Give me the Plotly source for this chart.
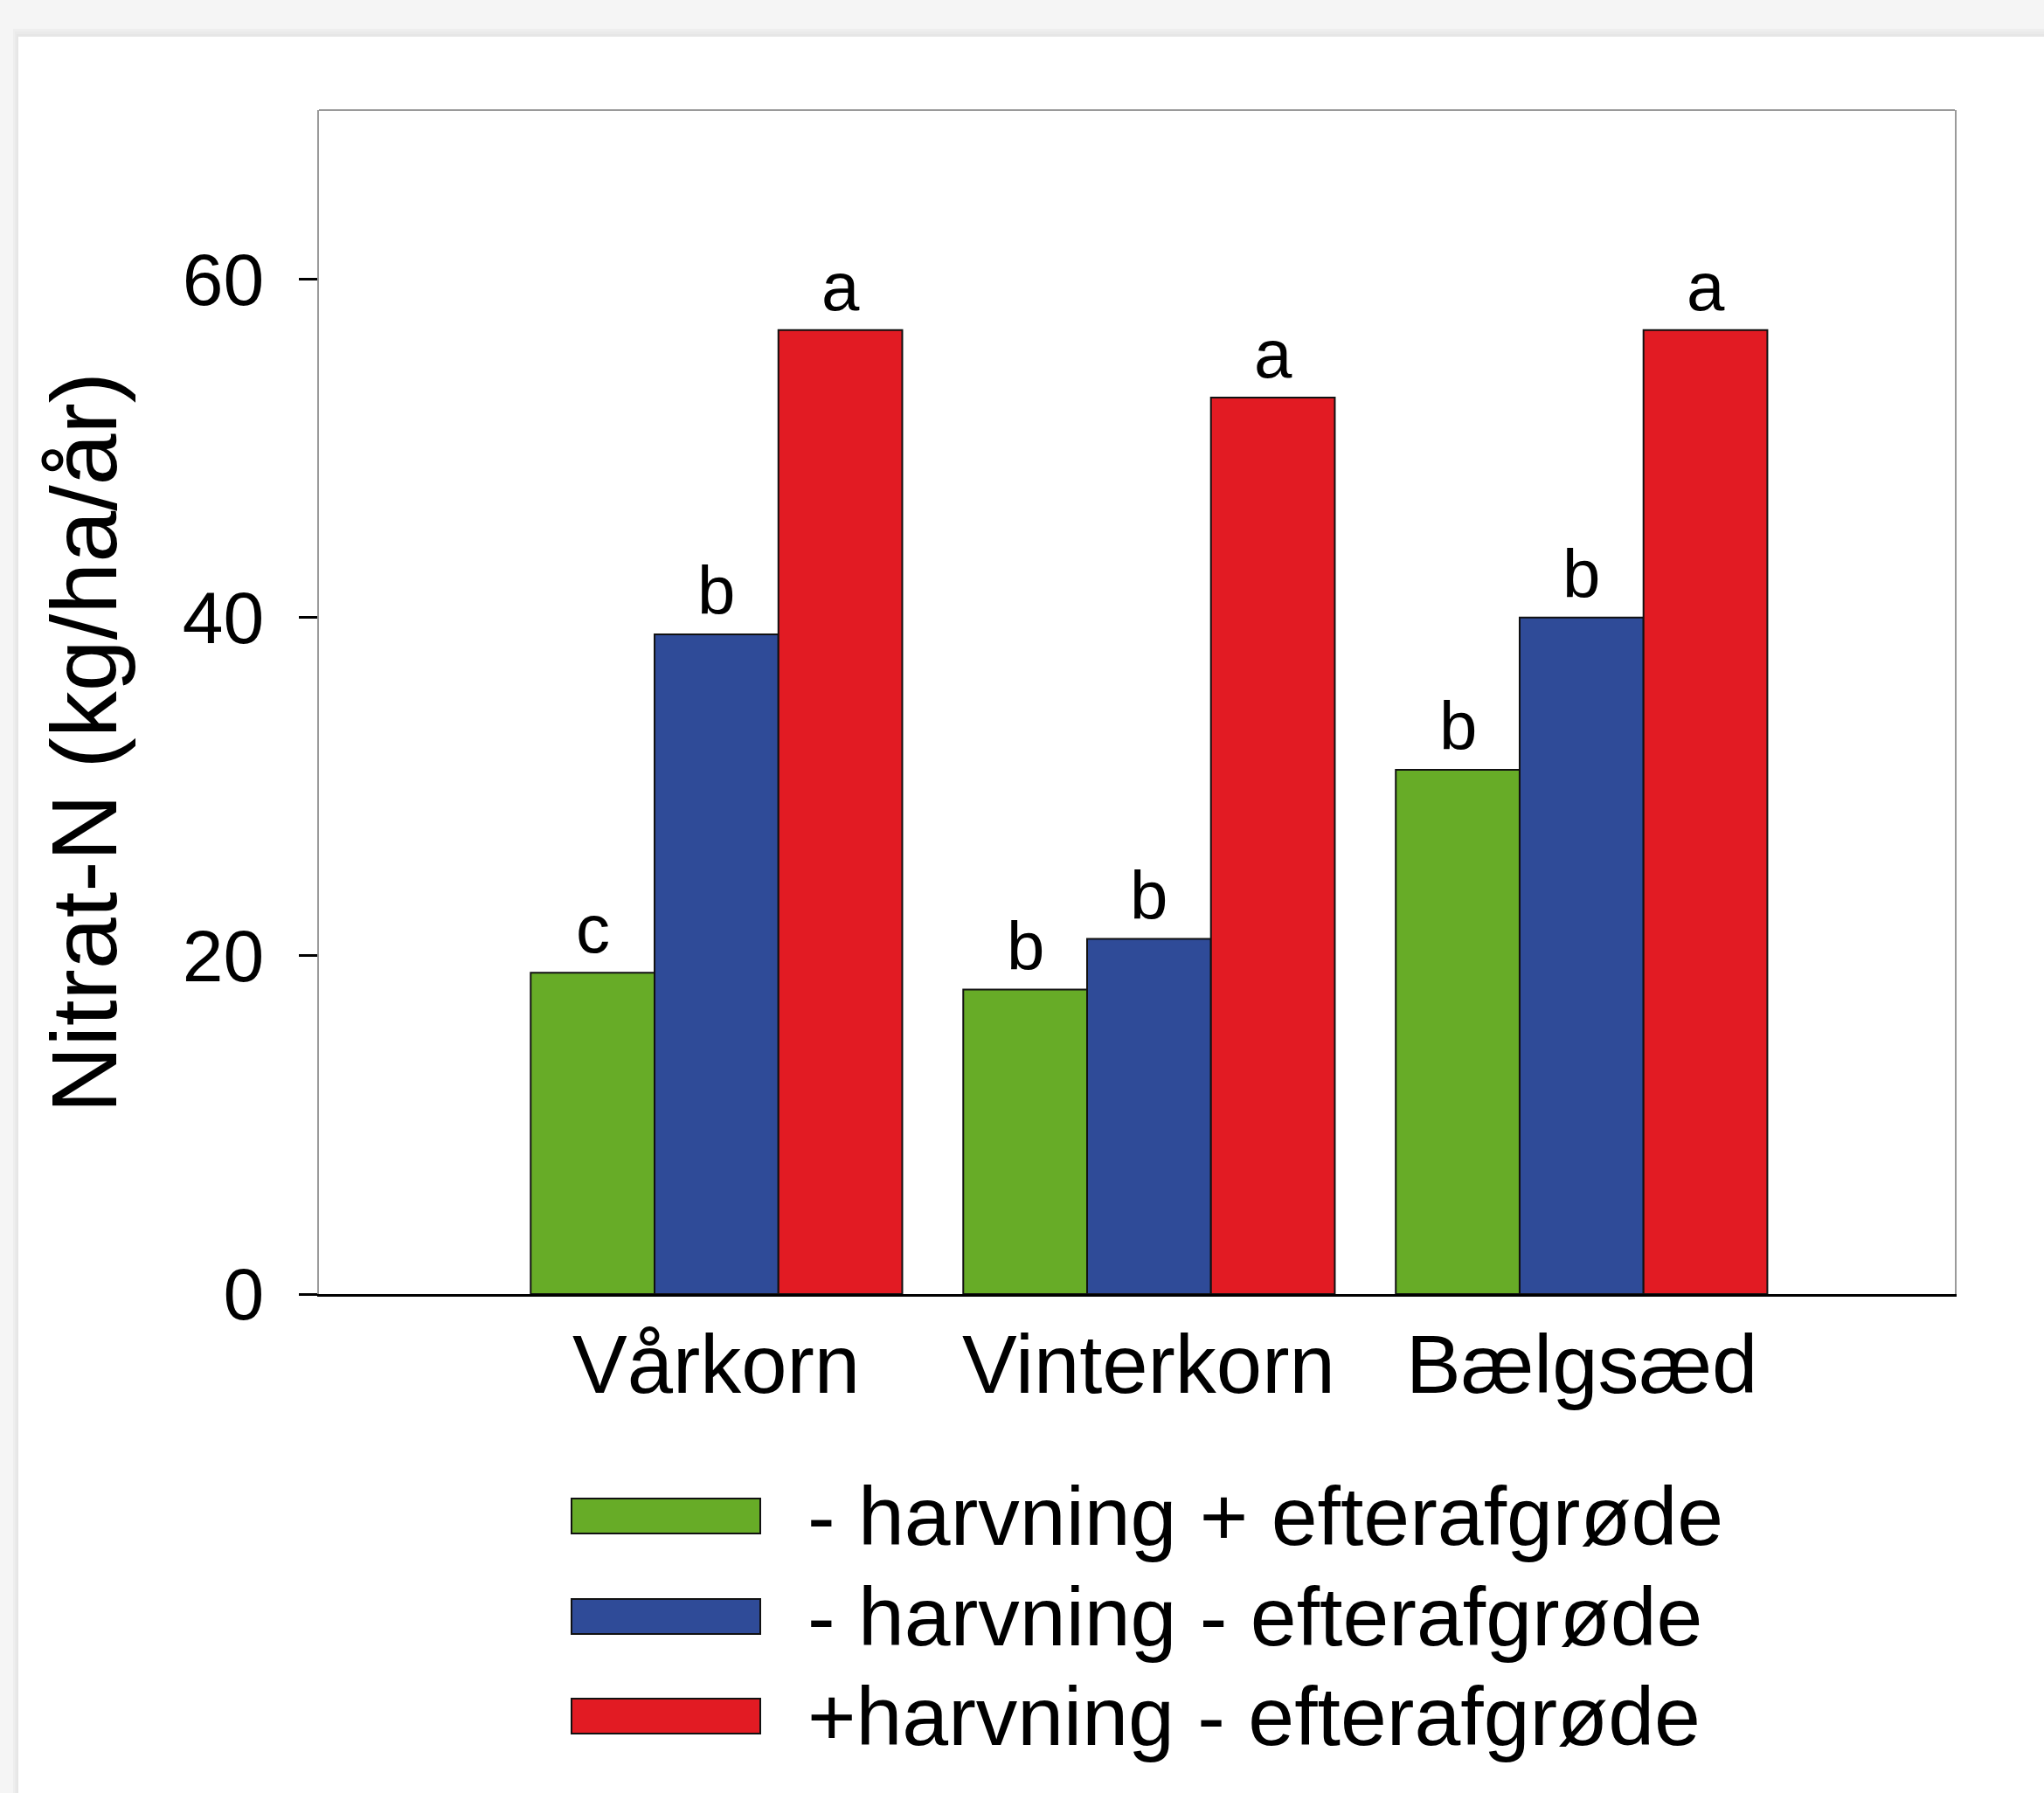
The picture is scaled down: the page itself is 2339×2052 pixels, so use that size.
import plotly.graph_objects as go

# ---- data ----
categories = ["Vårkorn", "Vinterkorn", "Bælgsæd"]
series_names = ["- harvning + efterafgrøde", "- harvning - efterafgrøde", "+harvning - efterafgrøde"]
green_values = [19, 18, 31]
blue_values = [39, 21, 40]
red_values = [57, 53, 57]
green_letters = ["c", "b", "b"]
blue_letters = ["b", "b", "b"]
red_letters = ["a", "a", "a"]
y_ticks = [0, 20, 40, 60]

colors = ["#67AC27", "#2F4B98", "#E21B23"]
series_values = [green_values, blue_values, red_values]
series_letters = [green_letters, blue_letters, red_letters]

W, H = 2339, 2052
ML, MR, MT, MB = 365, 102, 126, 571
PW = W - ML - MR
PH = H - MT - MB
FONT = "Liberation Sans, Arial, sans-serif"


def px2x(px):
    return (px - ML) / PW


def px2y(py):
    return (H - MB - py) / PH


x_pos = list(range(len(categories)))
bargap = 0.141
group_w = 1 - bargap
bar_w = group_w / 3

fig = go.Figure()
for i, (name, vals, col) in enumerate(zip(series_names, series_values, colors)):
    fig.add_trace(go.Bar(
        x=x_pos, y=vals, name=name,
        marker=dict(color=col, line=dict(color="#111111", width=2)),
        showlegend=False, hoverinfo="skip",
    ))

annotations = []
# significance letters
for i, (vals, letters) in enumerate(zip(series_values, series_letters)):
    off = (i - 1) * bar_w
    for xi, v, t in zip(x_pos, vals, letters):
        annotations.append(dict(
            x=xi + off, y=v, xref="x", yref="y", text=t, showarrow=False,
            yanchor="bottom", xanchor="center", yshift=4,
            font=dict(family=FONT, size=78, color="black"),
        ))

# category labels
for xi, c in zip(x_pos, categories):
    annotations.append(dict(
        x=xi, y=px2y(1561), xref="x", yref="paper", text=c, showarrow=False,
        xanchor="center", yanchor="middle",
        font=dict(family=FONT, size=94, color="black"),
    ))

# y-axis title
annotations.append(dict(
    x=px2x(96), y=px2y(850), xref="paper", yref="paper",
    text="Nitrat-N (kg/ha/år)", textangle=-90, showarrow=False,
    xanchor="center", yanchor="middle",
    font=dict(family=FONT, size=106, color="black"),
))

shapes = []
# page background / card with soft shadow
shadow = ["#eeeeee", "#eaeaea", "#e6e6e6"]
for k, c in enumerate(shadow):
    shapes.append(dict(type="rect", xref="paper", yref="paper", layer="below",
                       x0=px2x(21 - 6 + 2 * k), x1=1.2, y0=-0.6, y1=px2y(42 - 9 + 3 * k),
                       fillcolor=c, line=dict(width=0)))
shapes.append(dict(type="rect", xref="paper", yref="paper", layer="below",
                   x0=px2x(21), x1=1.2, y0=-0.6, y1=px2y(42),
                   fillcolor="white", line=dict(width=0)))
# top frame line (gray)
shapes.append(dict(type="line", xref="paper", yref="paper", x0=0, x1=1, y0=1, y1=1,
                   line=dict(color="#9a9a9a", width=2)))

# custom legend
legend_rows_y = [1735, 1850, 1964]
for name, col, ry in zip(series_names, colors, legend_rows_y):
    shapes.append(dict(type="rect", xref="paper", yref="paper",
                       x0=px2x(654), x1=px2x(870), y0=px2y(ry + 20), y1=px2y(ry - 20),
                       fillcolor=col, line=dict(color="#111111", width=2)))
    annotations.append(dict(
        x=px2x(922), y=px2y(ry), xref="paper", yref="paper", text=name,
        showarrow=False, xanchor="left", yanchor="middle",
        font=dict(family=FONT, size=95, color="black"),
    ))

fig.update_layout(
    width=W, height=H,
    margin=dict(l=ML, r=MR, t=MT, b=MB, pad=0),
    paper_bgcolor="#f5f5f5",
    plot_bgcolor="white",
    barmode="group", bargap=bargap, bargroupgap=0,
    annotations=annotations, shapes=shapes,
    showlegend=False,
    hovermode=False,
    font=dict(family=FONT, color="black"),
    xaxis=dict(
        range=[-0.919, 2.863], tickmode="array", tickvals=x_pos, ticktext=categories,
        showticklabels=False,
        showgrid=False, zeroline=False, showline=True, linecolor="black", linewidth=3,
        ticks="",
    ),
    yaxis=dict(
        range=[0, 70], tickmode="array", tickvals=y_ticks,
        showgrid=False, zeroline=False, showline=True, linecolor="#9a9a9a", linewidth=2,
        mirror=True, ticks="outside", ticklen=21, tickwidth=3, tickcolor="black",
        tickfont=dict(family=FONT, size=84, color="black"),
        ticklabelstandoff=23,
    ),
)

fig.write_html(
    "out.html",
    config={"displayModeBar": False},
    post_script="document.body.style.margin='0';document.body.style.background='#f5f5f5';",
)
